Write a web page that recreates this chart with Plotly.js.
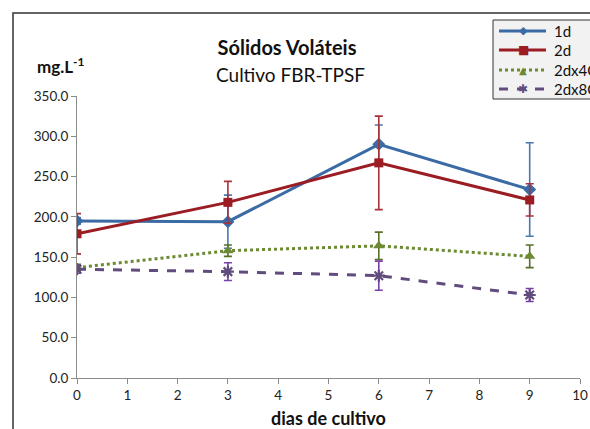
<!DOCTYPE html>
<html>
<head>
<meta charset="utf-8">
<script src="https://cdn.plot.ly/plotly-3.0.1.min.js"></script>
<style>
  html, body { margin: 0; padding: 0; background: #fff; }
  #chart { width: 590px; height: 429px; }
</style>
</head>
<body>
<div id="chart"></div>
<script>
// Sampling days
const days = [0, 3, 6, 9];

// Volatile solids (mg/L) per condition, with standard deviations
const series1d = [195, 194, 290, 234];
const err1d = [4, 33, 24, 58];

const series2d = [179, 218, 267, 221];
const err2d = [25, 26, 58, 20];

const series2dx4C = [137, 158, 164, 151];
const err2dx4C = [4, 7, 17, 14];

const series2dx8C = [135, 132, 127, 103];
const err2dx8C = [5, 11, 18, 8];

const seriesNames = ['1d', '2d', '2dx4C', '2dx8C'];

const FONT = 'Lato, "Open Sans", "Liberation Sans", sans-serif';

// Plot area in pixels: used to place the frame and the hand-built legend
const W = 590, H = 429;
const M = { l: 77, r: 10, t: 96, b: 51 };
const PW = W - M.l - M.r, PH = H - M.t - M.b;
const px = x => (x - M.l) / PW;
const py = y => (H - M.b - y) / PH;

const styles = [
  { color: '#3b6ba4', err: '#4a78b0', dash: 'solid', symbol: 'diamond', size: 10, glyph: '◆', gsize: 11 },
  { color: '#9b1c23', err: '#a8323a', dash: 'solid', symbol: 'square', size: 9, glyph: '■', gsize: 12 },
  { color: '#6b8a32', err: '#56702a', dash: 'dot', symbol: 'triangle-up', size: 10, glyph: '▲', gsize: 10 },
  { color: '#614c7e', err: '#7a3fa8', dash: 'dash', symbol: 'asterisk-open', size: 10, glyph: '✱', gsize: 12 }
];

const values = [series1d, series2d, series2dx4C, series2dx8C];
const errors = [err1d, err2d, err2dx4C, err2dx8C];

const data = seriesNames.map((name, i) => {
  const s = styles[i];
  return {
    type: 'scatter',
    mode: 'lines+markers',
    name: name,
    x: days,
    y: values[i],
    line: { color: s.color, width: 3, dash: s.dash },
    marker: {
      symbol: s.symbol,
      size: s.size,
      color: s.color,
      line: s.symbol === 'asterisk-open' ? { color: s.color, width: 2.2 } : { width: 0 }
    },
    error_y: {
      type: 'data',
      array: errors[i],
      visible: true,
      color: s.err,
      thickness: 1.6,
      width: 4
    }
  };
});

// Outer chart frame
const shapes = [{
  type: 'rect', xref: 'paper', yref: 'paper',
  x0: px(13), x1: px(640), y0: py(470), y1: py(13),
  line: { color: '#333', width: 1.5 },
  fillcolor: 'rgba(0,0,0,0)', layer: 'below'
}];

// Legend box, running off the right edge
shapes.push({
  type: 'rect', xref: 'paper', yref: 'paper',
  x0: px(493), x1: px(640), y0: py(99), y1: py(20),
  line: { color: '#333', width: 1 },
  fillcolor: '#f2f2f2', layer: 'above'
});

const annotations = [];
const legendRows = [31, 50, 70, 89];
seriesNames.forEach((name, i) => {
  const s = styles[i];
  const yy = py(legendRows[i]);
  shapes.push({
    type: 'line', xref: 'paper', yref: 'paper',
    x0: px(499), x1: px(546), y0: yy, y1: yy,
    line: { color: s.color, width: 3, dash: s.dash },
    layer: 'above'
  });
  annotations.push({
    text: s.glyph, xref: 'paper', yref: 'paper',
    x: px(523), y: yy, xanchor: 'center', yanchor: 'middle',
    showarrow: false,
    font: { family: '"DejaVu Sans", sans-serif', size: s.gsize, color: s.color }
  });
  annotations.push({
    text: name, xref: 'paper', yref: 'paper',
    x: px(552), y: yy, xanchor: 'left', yanchor: 'middle',
    showarrow: false,
    font: { family: FONT, size: 15, color: '#111' }
  });
});

// Subtitle and y-axis unit
annotations.push({
  text: 'Cultivo FBR-TPSF', xref: 'paper', yref: 'paper',
  x: px(290), y: py(74), xanchor: 'center', yanchor: 'middle',
  showarrow: false,
  font: { family: FONT, size: 19, color: '#111' }
});
annotations.push({
  text: '<b>mg.L<sup>-1</sup></b>', xref: 'paper', yref: 'paper',
  x: px(61), y: py(65), xanchor: 'center', yanchor: 'middle',
  showarrow: false,
  font: { family: FONT, size: 17, color: '#111' }
});

const layout = {
  width: W,
  height: H,
  margin: { l: M.l, r: M.r, t: M.t, b: M.b, autoexpand: false },
  paper_bgcolor: '#ffffff',
  plot_bgcolor: '#ffffff',
  font: { family: FONT, size: 13, color: '#222' },
  showlegend: false,
  title: {
    text: '<b>Sólidos Voláteis</b>',
    font: { family: FONT, size: 20, color: '#111' },
    x: 287 / W, xanchor: 'center', xref: 'container',
    y: 1 - 48 / H, yanchor: 'middle', yref: 'container'
  },
  xaxis: {
    range: [0, 10],
    dtick: 1,
    tick0: 0,
    showgrid: false,
    zeroline: false,
    showline: true,
    linecolor: '#8c8c8c',
    linewidth: 1,
    ticks: 'outside',
    ticklen: 5,
    tickcolor: '#8c8c8c',
    tickfont: { family: FONT, size: 13.5, color: '#222' },
    title: {
      text: '<b>dias de cultivo</b>',
      font: { family: FONT, size: 18, color: '#111' },
      standoff: 10
    }
  },
  yaxis: {
    range: [0, 350],
    dtick: 50,
    tick0: 0,
    tickformat: '.1f',
    showgrid: false,
    zeroline: false,
    showline: true,
    linecolor: '#8c8c8c',
    linewidth: 1,
    ticks: 'outside',
    ticklen: 5,
    tickcolor: '#8c8c8c',
    tickfont: { family: FONT, size: 13.5, color: '#222' }
  },
  annotations: annotations,
  shapes: shapes
};

Plotly.newPlot('chart', data, layout, { displayModeBar: false, staticPlot: true });
</script>
</body>
</html>
